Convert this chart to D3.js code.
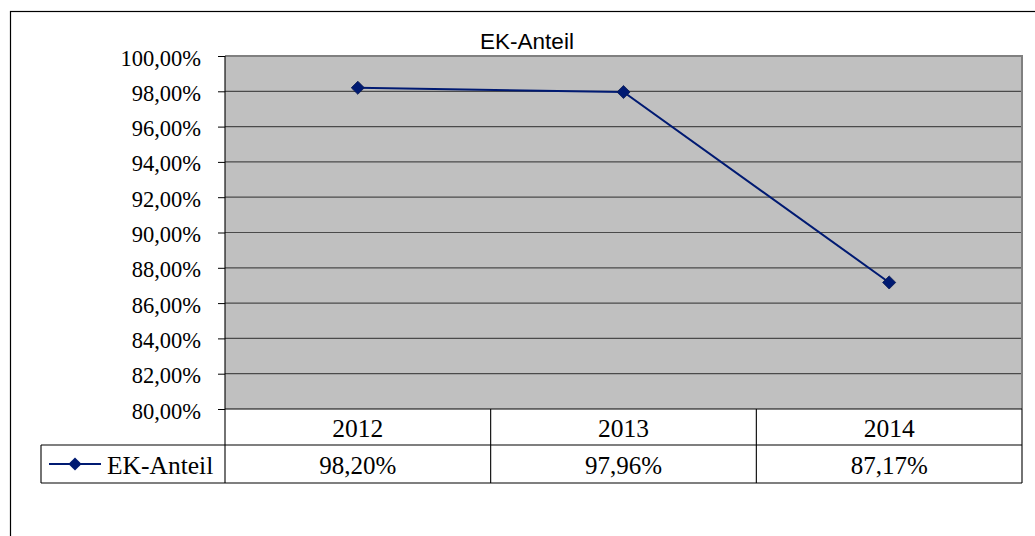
<!DOCTYPE html>
<html>
<head>
<meta charset="utf-8">
<script src="https://cdn.jsdelivr.net/npm/d3@7"></script>
<style>
  html, body { margin: 0; padding: 0; background: #fff; }
  svg { display: block; }
</style>
</head>
<body>
<svg id="chart" width="1035" height="536"></svg>
<script>
// Equity ratio per year
const years = ["2012", "2013", "2014"];
const ekAnteil = [98.20, 97.96, 87.17];
const yTicks = [80, 82, 84, 86, 88, 90, 92, 94, 96, 98, 100];
const seriesName = "EK-Anteil";
const title = "EK-Anteil";

const svg = d3.select("#chart");
const fmt = v => v.toFixed(2).replace(".", ",") + "%";

const plot = { left: 225, right: 1022, top: 56, bottom: 409 };
const rowBottoms = [445, 483];
const legendLeft = 41;
const navy = "#001a72";
const serif = "'Liberation Serif', 'Times New Roman', serif";

// Outer chart frame
svg.append("rect")
  .attr("x", 10.5).attr("y", 11.5)
  .attr("width", 1040).attr("height", 540)
  .attr("fill", "#fff").attr("stroke", "#000").attr("stroke-width", 1.2);

const x = d3.scaleBand().domain(years).range([plot.left, plot.right]).padding(0);
const y = d3.scaleLinear().domain([80, 100]).range([plot.bottom, plot.top]);

// Plot area
svg.append("rect")
  .attr("x", plot.left).attr("y", plot.top)
  .attr("width", plot.right - plot.left).attr("height", plot.bottom - plot.top)
  .attr("fill", "#c0c0c0");

// Horizontal gridlines
svg.append("g")
  .selectAll("line")
  .data(yTicks.filter(t => t > 80 && t < 100))
  .join("line")
  .attr("x1", plot.left).attr("x2", plot.right)
  .attr("y1", d => y(d)).attr("y2", d => y(d))
  .attr("stroke", "#4a4a4a").attr("stroke-width", 1.2);

// Plot area frame: grey top and right edges
svg.append("path")
  .attr("d", `M${plot.left},${plot.top} H${plot.right} V${plot.bottom}`)
  .attr("fill", "none").attr("stroke", "#808080").attr("stroke-width", 2);

// Y axis
const yAxis = d3.axisLeft(y).tickValues(yTicks).tickFormat(fmt).tickSize(7).tickPadding(17);
const gy = svg.append("g").attr("transform", `translate(${plot.left},0)`).call(yAxis);
gy.select(".domain").remove();
gy.selectAll(".tick line").attr("stroke", "#000");
gy.selectAll(".tick text")
  .attr("font-family", serif)
  .attr("font-size", 22.5).attr("fill", "#000")
  .attr("dy", "0.4em");

// Data table
const tbl = svg.append("g").attr("stroke", "#000").attr("stroke-width", 1.1);
tbl.append("line").attr("x1", plot.left).attr("x2", plot.right).attr("y1", plot.bottom).attr("y2", plot.bottom);
tbl.append("line").attr("x1", legendLeft).attr("x2", plot.right).attr("y1", rowBottoms[0]).attr("y2", rowBottoms[0]);
tbl.append("line").attr("x1", legendLeft).attr("x2", plot.right).attr("y1", rowBottoms[1]).attr("y2", rowBottoms[1]);
tbl.append("line").attr("x1", legendLeft).attr("x2", legendLeft).attr("y1", rowBottoms[0]).attr("y2", rowBottoms[1]);
// Axis line through the table
tbl.append("line").attr("x1", plot.left).attr("x2", plot.left).attr("y1", plot.top).attr("y2", rowBottoms[1]);
// Column separators
tbl.selectAll("line.col")
  .data(years)
  .join("line")
  .attr("class", "col")
  .attr("x1", d => x(d) + x.bandwidth()).attr("x2", d => x(d) + x.bandwidth())
  .attr("y1", plot.bottom).attr("y2", rowBottoms[1]);

svg.append("g").selectAll("text")
  .data(years)
  .join("text")
  .attr("x", d => x(d) + x.bandwidth() / 2)
  .attr("y", 436.5)
  .attr("text-anchor", "middle")
  .attr("font-family", serif).attr("font-size", 25.5)
  .text(d => d);

svg.append("g").selectAll("text")
  .data(ekAnteil)
  .join("text")
  .attr("x", (d, i) => x(years[i]) + x.bandwidth() / 2)
  .attr("y", 474)
  .attr("text-anchor", "middle")
  .attr("font-family", serif).attr("font-size", 25)
  .text(d => fmt(d));

// Legend key
const diamond = d3.symbol().type(d3.symbolDiamond2).size(110);
svg.append("line")
  .attr("x1", 49).attr("x2", 101).attr("y1", 464).attr("y2", 464)
  .attr("stroke", navy).attr("stroke-width", 2);
svg.append("path").attr("d", diamond).attr("transform", "translate(75,464)").attr("fill", navy);
svg.append("text")
  .attr("x", 107).attr("y", 474)
  .attr("font-family", serif).attr("font-size", 25.5)
  .text(seriesName);

// Series line and markers
const pts = ekAnteil.map((v, i) => [x(years[i]) + x.bandwidth() / 2, y(v)]);
svg.append("path")
  .attr("d", d3.line()(pts))
  .attr("fill", "none").attr("stroke", navy).attr("stroke-width", 2);
svg.append("g").selectAll("path")
  .data(pts)
  .join("path")
  .attr("d", diamond)
  .attr("transform", d => `translate(${d[0]},${d[1]})`)
  .attr("fill", navy).attr("stroke", "#0a1a50").attr("stroke-width", 0.8);

// Title
svg.append("text")
  .attr("x", 527).attr("y", 48.5)
  .attr("text-anchor", "middle")
  .attr("font-family", "'Liberation Sans', Arial, sans-serif").attr("font-size", 22.5)
  .text(title);
</script>
</body>
</html>
